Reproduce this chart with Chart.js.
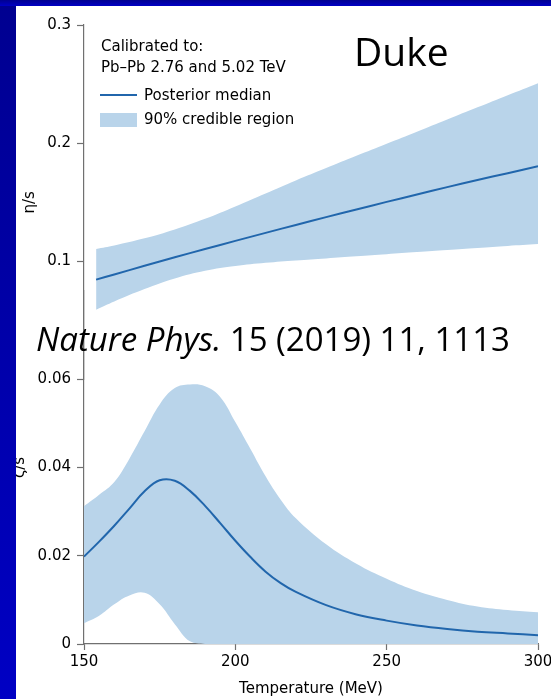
<!DOCTYPE html>
<html>
<head>
<meta charset="utf-8">
<script src="https://cdn.jsdelivr.net/npm/chart.js@4.4.1/dist/chart.umd.min.js"></script>
<style>
  html, body { margin: 0; padding: 0; }
  body {
    width: 551px; height: 699px; position: relative; overflow: hidden;
    background: linear-gradient(#000090, #0000c4);
  }
  #panel { position: absolute; left: 16px; top: 6px; right: 0; bottom: 0; background: #fff; }
  .chartBox { position: absolute; left: 0; }
  .edge { position: absolute; background: linear-gradient(#000090, #0000c4); z-index: 5; }
  .txt { position: absolute; white-space: nowrap; line-height: 1; color: #000; z-index: 4; }
  .leg { font-family: "DejaVu Sans", sans-serif; font-size: 15px; }
  .slide { font-family: "Open Sans", "Noto Sans", sans-serif; }
  .swatchLine { position: absolute; left: 100px; width: 37px; height: 2px; background: #2166ac; z-index: 4; }
  .swatchBox { position: absolute; left: 100px; width: 37px; height: 14px; background: #b9d4ea; z-index: 4; }
</style>
</head>
<body>
<div id="panel"></div>
<div class="chartBox" style="top:0px"><canvas id="etaChart" width="551" height="400"></canvas></div>
<div class="chartBox" style="top:270px"><canvas id="zetaChart" width="551" height="429"></canvas></div>

<div class="edge" style="left:0;top:0;width:16px;height:699px"></div>
<div class="edge" style="left:0;top:0;width:551px;height:6px"></div>

<div class="txt leg" style="left:101px;top:39px">Calibrated to:</div>
<div class="txt leg" style="left:101px;top:60px">Pb–Pb 2.76 and 5.02 TeV</div>
<div class="swatchLine" style="top:94px"></div>
<div class="txt leg" style="left:144px;top:88px">Posterior median</div>
<div class="swatchBox" style="top:113px"></div>
<div class="txt leg" style="left:144px;top:112px">90% credible region</div>

<div class="txt slide" style="left:354px;top:31px;font-size:39px">Duke</div>
<div class="txt slide" style="left:36px;top:322px;font-size:33px"><i>Nature Phys.</i> 15 (2019) 11, 1113</div>

<script>
// eta/s (shear) panel
const TEMP_ETA = [154, 160, 170, 180, 190, 200, 210, 220, 230, 240, 250, 260, 270, 280, 290, 300];
const ETA_MEDIAN = [0.0845, 0.0889, 0.0962, 0.1034, 0.1104, 0.1173, 0.1241, 0.1308, 0.1374, 0.1439, 0.1503, 0.1566, 0.1628, 0.1688, 0.1746, 0.1804];
const ETA_UPPER = [0.1105, 0.1135, 0.1195, 0.127, 0.136, 0.1465, 0.1575, 0.1685, 0.179, 0.1893, 0.1995, 0.2097, 0.22, 0.2303, 0.2406, 0.2508];
const ETA_LOWER = [0.059, 0.066, 0.0765, 0.0855, 0.092, 0.096, 0.0987, 0.1007, 0.1025, 0.1042, 0.106, 0.1078, 0.1096, 0.1113, 0.113, 0.1146];

// zeta/s (bulk) panel
const TEMP_ZETA = [150, 155, 160, 165, 170, 175, 180, 185, 190, 195, 200, 205, 210, 215, 220, 230, 240, 250, 260, 270, 280, 290, 300];
const ZETA_MEDIAN = [0.0198, 0.0232, 0.0268, 0.0307, 0.0346, 0.0371, 0.0370, 0.0347, 0.0313, 0.0274, 0.0234, 0.0197, 0.0164, 0.0138, 0.0118, 0.0088, 0.0067, 0.0053, 0.0042, 0.0034, 0.0028, 0.0024, 0.0020];
const ZETA_UPPER = [0.0312, 0.0338, 0.0367, 0.0420, 0.0482, 0.0543, 0.0580, 0.0588, 0.0584, 0.0560, 0.0503, 0.0442, 0.0380, 0.0327, 0.0285, 0.0226, 0.0182, 0.0148, 0.0120, 0.0100, 0.0085, 0.0077, 0.0072];
const ZETA_LOWER = [0.0047, 0.0064, 0.0090, 0.0110, 0.0116, 0.0090, 0.0045, 0.0006, 0, 0, 0, 0, 0, 0, 0, 0, 0, 0, 0, 0, 0, 0, 0];

const X_TICKS = [150, 200, 250, 300];
const ETA_TICKS = [0.1, 0.2, 0.3];
const ZETA_TICKS = [0, 0.02, 0.04, 0.06];

const LINE_COLOR = '#2166ac';
const BAND_COLOR = '#b9d4ea';
const AXIS_COLOR = '#707070';

Chart.defaults.font.family = '"DejaVu Sans", sans-serif';
Chart.defaults.font.size = 15;
Chart.defaults.color = '#000';

const pts = (xs, ys) => xs.map((x, i) => ({ x: x, y: ys[i] }));

function makeDatasets(xs, med, up, lo) {
  return [
    { label: 'Posterior median', data: pts(xs, med), borderColor: LINE_COLOR, borderWidth: 2,
      pointRadius: 0, fill: false, tension: 0.4 },
    { label: '90% credible region', data: pts(xs, up), borderWidth: 0, borderColor: 'rgba(0,0,0,0)',
      backgroundColor: BAND_COLOR, pointRadius: 0, fill: '+1', tension: 0.4 },
    { label: 'lower', data: pts(xs, lo), borderWidth: 0, borderColor: 'rgba(0,0,0,0)',
      pointRadius: 0, fill: false, tension: 0.4 }
  ];
}

function yAxis(min, max, keep, title, titlePad) {
  return {
    type: 'linear', min: min, max: max,
    afterFit: s => { s.width = 84; s.paddingTop = 0; s.paddingBottom = 0; },
    afterBuildTicks: s => { s.ticks = keep.map(v => ({ value: v })); },
    ticks: { padding: 6, callback: v => String(+v.toFixed(2)) },
    grid: { drawOnChartArea: false, tickLength: 7, tickColor: AXIS_COLOR, tickWidth: 1.2 },
    border: { color: AXIS_COLOR, width: 1.2 },
    title: { display: true, text: title, padding: { top: titlePad, bottom: 0 } }
  };
}

new Chart(document.getElementById('etaChart'), {
  type: 'line',
  data: { datasets: makeDatasets(TEMP_ETA, ETA_MEDIAN, ETA_UPPER, ETA_LOWER) },
  options: {
    responsive: false, animation: false,
    layout: { padding: { left: 0, right: 13, top: 25, bottom: 20.5 } },
    plugins: { legend: { display: false }, tooltip: { enabled: false } },
    scales: {
      x: { type: 'linear', min: 150, max: 300, display: false },
      y: yAxis(0, 0.3, ETA_TICKS, 'η/s', 21)
    }
  }
});

new Chart(document.getElementById('zetaChart'), {
  type: 'line',
  data: { datasets: makeDatasets(TEMP_ZETA, ZETA_MEDIAN, ZETA_UPPER, ZETA_LOWER) },
  options: {
    responsive: false, animation: false,
    layout: { padding: { left: 0, right: 13, top: 21, bottom: 0 } },
    plugins: { legend: { display: false }, tooltip: { enabled: false } },
    scales: {
      x: {
        type: 'linear', min: 150, max: 300,
        afterFit: s => { s.height = 55; s.paddingLeft = 0; s.paddingRight = 0; },
        afterBuildTicks: s => { s.ticks = X_TICKS.map(v => ({ value: v })); },
        ticks: { padding: 3 },
        grid: { drawOnChartArea: false, tickLength: 6, tickColor: AXIS_COLOR, tickWidth: 1.2 },
        border: { color: AXIS_COLOR, width: 1.2 },
        title: { display: true, text: 'Temperature (MeV)', padding: { top: 0, bottom: 1 } }
      },
      y: yAxis(0, 0.08, ZETA_TICKS, 'ζ/s', 11)
    }
  }
});
</script>
</body>
</html>
